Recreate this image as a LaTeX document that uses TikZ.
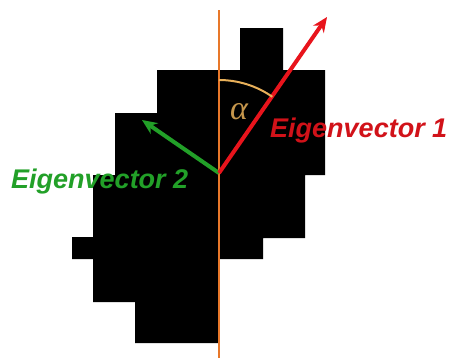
\documentclass[tikz,border=0pt]{standalone}
\usepackage{fontspec}
\setmainfont{Liberation Sans}
\newfontfamily\labfont{Liberation Sans Bold Italic}
\newfontfamily\greekfont{Liberation Serif Italic}
\usetikzlibrary{arrows.meta}
\definecolor{axisorange}{HTML}{E8782A}
\definecolor{arcgold}{HTML}{E8B05A}
\definecolor{vecred}{HTML}{E8141C}
\definecolor{vecgreen}{HTML}{22A028}
\tikzset{
  vec/.style={line width=4pt, -{Stealth[length=15pt,width=13pt]}},
  veclabel/.style={font=\labfont\fontsize{27}{27}\selectfont, inner sep=0pt, anchor=west},
}
\begin{document}
\begin{tikzpicture}[x=1pt,y=-1pt]
  \useasboundingbox (0,0) rectangle (449,360);
  % binary blob
  \fill[black] (240,28) -- (283,28) -- (283,70) -- (325,70) -- (325,175)
    -- (305,175) -- (305,238) -- (263,238) -- (263,259) -- (219,259)
    -- (219,343) -- (135,343) -- (135,302) -- (93,302) -- (93,259)
    -- (72,259) -- (72,237) -- (93,237) -- (93,175) -- (115,175)
    -- (115,113) -- (157,113) -- (157,70) -- (240,70) -- cycle;
  % vertical reference axis
  \coordinate (top) at (219,10);
  \coordinate (bottom) at (219,358);
  \draw[axisorange, line width=2pt] (top) -- (bottom);
  % eigenvectors from the centroid
  \coordinate (c) at (219,173);
  \coordinate (e1) at (327,17);
  \coordinate (e2) at (142,120);
  \draw[vec, vecgreen] (c) -- (e2);
  \draw[vec, vecred] (c) -- (e1);
  % angle between axis and first eigenvector (y grows downward here)
  \draw[arcgold, line width=2pt] (c) ++(-90:93) arc[start angle=-90, end angle=-55, radius=93];
  \node[text=arcgold!85!black, font=\greekfont\fontsize{34}{34}\selectfont, inner sep=0pt] (alpha) at (239,112) {α};
  \node[veclabel, text=vecred!90!black] (l1) at (270,131) {Eigenvector 1};
  \node[veclabel, text=vecgreen] (l2) at (11,182) {Eigenvector 2};
\end{tikzpicture}
\end{document}
